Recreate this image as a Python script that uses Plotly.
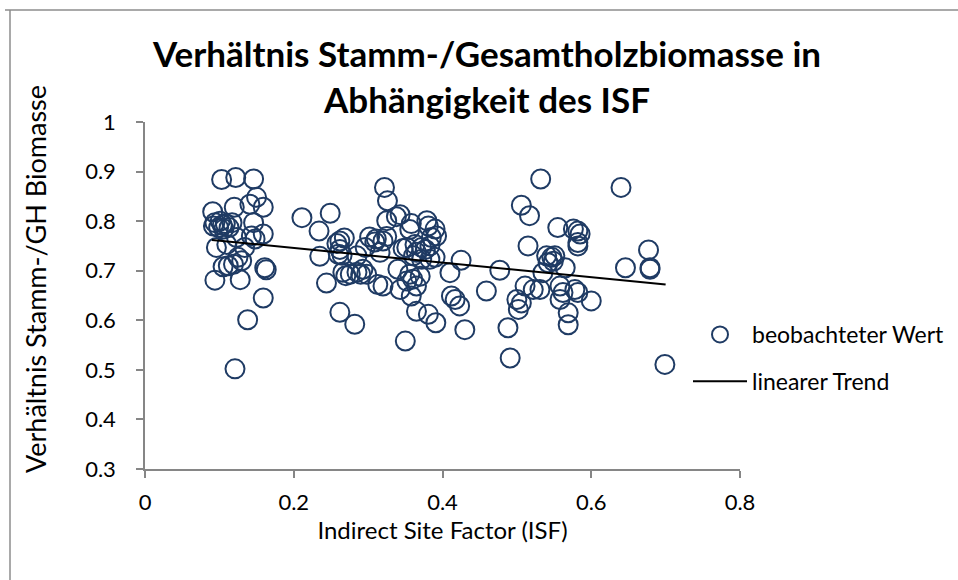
import plotly.graph_objects as go

# observed values (Indirect Site Factor, ratio stem / total wood biomass)
isf = [
    0.091, 0.103, 0.122, 0.146, 0.150, 0.141, 0.159, 0.120,
    0.094, 0.101, 0.108, 0.106, 0.113, 0.099, 0.117, 0.092, 0.104,
    0.146, 0.159, 0.143, 0.148, 0.123, 0.110, 0.096, 0.134,
    0.125, 0.119, 0.112, 0.105, 0.130, 0.161, 0.163,
    0.094, 0.128, 0.159, 0.138, 0.121,
    0.211, 0.249, 0.234, 0.235, 0.244,
    0.262, 0.268, 0.258, 0.262, 0.265, 0.260,
    0.266, 0.276, 0.285, 0.290, 0.270,
    0.262, 0.282,
    0.285, 0.296, 0.302, 0.309, 0.316, 0.311, 0.320, 0.325,
    0.322, 0.326, 0.325, 0.338, 0.343,
    0.313, 0.320, 0.340, 0.343, 0.352, 0.356, 0.358, 0.365, 0.360, 0.370, 0.293, 0.298,
    0.365, 0.381, 0.391, 0.350,
    0.358, 0.356, 0.379, 0.381, 0.390, 0.385, 0.392,
    0.347, 0.352, 0.363, 0.372, 0.377, 0.383, 0.365,
    0.361, 0.372, 0.383, 0.390,
    0.410, 0.425, 0.412, 0.417, 0.423, 0.430,
    0.459, 0.477, 0.488, 0.491, 0.500, 0.502, 0.506, 0.511, 0.522,
    0.506, 0.517, 0.532, 0.515,
    0.540, 0.547, 0.551, 0.542, 0.549, 0.535, 0.531,
    0.555, 0.576, 0.582, 0.585, 0.582, 0.582,
    0.565, 0.558, 0.562, 0.558, 0.578, 0.582, 0.600,
    0.569, 0.569,
    0.640, 0.646, 0.677, 0.679, 0.679, 0.699,
]
ratio = [
    0.819, 0.884, 0.888, 0.885, 0.848, 0.834, 0.828, 0.828,
    0.797, 0.800, 0.795, 0.784, 0.787, 0.787, 0.797, 0.790, 0.792,
    0.797, 0.774, 0.770, 0.764, 0.767, 0.753, 0.747, 0.747,
    0.727, 0.713, 0.710, 0.708, 0.720, 0.706, 0.702,
    0.681, 0.682, 0.645, 0.601, 0.502,
    0.807, 0.816, 0.780, 0.729, 0.675,
    0.760, 0.766, 0.755, 0.743, 0.731, 0.733,
    0.697, 0.693, 0.697, 0.693, 0.690,
    0.616, 0.592,
    0.730, 0.747, 0.768, 0.758, 0.737, 0.764, 0.760, 0.769,
    0.868, 0.841, 0.801, 0.809, 0.813,
    0.672, 0.669, 0.703, 0.662, 0.679, 0.693, 0.649, 0.669, 0.683, 0.689, 0.703, 0.693,
    0.618, 0.612, 0.595, 0.558,
    0.795, 0.783, 0.801, 0.790, 0.784, 0.767, 0.770,
    0.745, 0.747, 0.753, 0.747, 0.743, 0.750, 0.737,
    0.730, 0.723, 0.723, 0.727,
    0.696, 0.721, 0.649, 0.642, 0.629, 0.581,
    0.659, 0.701, 0.585, 0.524, 0.642, 0.622, 0.635, 0.669, 0.662,
    0.832, 0.811, 0.885, 0.750,
    0.730, 0.727, 0.730, 0.716, 0.719, 0.696, 0.662,
    0.787, 0.784, 0.780, 0.774, 0.757, 0.750,
    0.706, 0.669, 0.656, 0.642, 0.662, 0.656, 0.639,
    0.615, 0.591,
    0.868, 0.706, 0.742, 0.706, 0.703, 0.511,
]

# linear trend end points
trend_x = [0.09, 0.70]
trend_y = [0.762, 0.672]

x_ticks = [0, 0.2, 0.4, 0.6, 0.8]
y_ticks = [0.3, 0.4, 0.5, 0.6, 0.7, 0.8, 0.9, 1.0]
y_tick_labels = ["0.3", "0.4", "0.5", "0.6", "0.7", "0.8", "0.9", "1"]

FONT = "Lato, 'Open Sans', sans-serif"
NAVY = "#1f3b64"
AX = "#868686"

fig = go.Figure()
fig.add_trace(go.Scatter(
    x=isf, y=ratio, mode="markers", name="beobachteter Wert",
    legendgroup="a",
    marker=dict(symbol="circle-open", size=19, color=NAVY, line=dict(width=2, color=NAVY)),
))
fig.add_trace(go.Scatter(
    x=trend_x, y=trend_y, mode="lines", name="linearer Trend",
    legendgroup="b",
    line=dict(color="black", width=2),
))

L, R, T, B = 145, 218, 122, 111
W, H = 958, 580
pw, ph = W - L - R, H - T - B

fig.update_layout(
    width=W, height=H,
    margin=dict(l=L, r=R, t=T, b=B, autoexpand=False),
    paper_bgcolor="white", plot_bgcolor="white",
    font=dict(family=FONT, color="black", size=20),
    title=dict(
        text="<b>Verhältnis Stamm-/Gesamtholzbiomasse in<br>Abhängigkeit des ISF</b>",
        font=dict(family=FONT, size=35, color="black"),
        x=487 / W, xanchor="center", xref="container",
        y=1 - 67 / H, yanchor="middle", yref="container",
    ),
    xaxis=dict(
        range=[0, 0.8], tickvals=x_ticks, ticktext=[str(v) for v in x_ticks],
        showline=True, linecolor=AX, linewidth=1.5, mirror=False,
        ticks="outside", ticklen=7, tickcolor=AX, tickwidth=1.5,
        showgrid=False, zeroline=False,
        tickfont=dict(size=22), ticklabelstandoff=6,
        title=dict(text="Indirect Site Factor (ISF)", font=dict(size=24), standoff=0),
    ),
    yaxis=dict(
        range=[0.3, 1.0], tickvals=y_ticks, ticktext=y_tick_labels,
        showline=True, linecolor=AX, linewidth=1.5,
        ticks="outside", ticklen=7, tickcolor=AX, tickwidth=1.5,
        showgrid=False, zeroline=False,
        tickfont=dict(size=22), ticklabelstandoff=16,
    ),
    legend=dict(
        x=(688 - L) / pw, xanchor="left",
        y=(H - B - 313) / ph, yanchor="top",
        font=dict(size=23), tracegroupgap=14, itemwidth=54,
        bgcolor="rgba(0,0,0,0)",
    ),
    showlegend=True,
)

# y-axis title (placed like the original, slightly above the plot-area centre)
fig.add_annotation(
    text="Verhältnis Stamm-/GH Biomasse", textangle=-90,
    xref="paper", yref="paper", x=(35 - L) / pw, y=(H - B - 279) / ph,
    xanchor="center", yanchor="middle", showarrow=False,
    font=dict(family=FONT, size=27, color="black"),
)

# outer chart-area border (left and top edges visible)
fig.add_shape(type="line", xref="paper", yref="paper",
              x0=(10 - L) / pw, x1=(10 - L) / pw, y0=(H - B - 10) / ph, y1=(H - B - 600) / ph,
              line=dict(color="#8c8c8c", width=1.5))
fig.add_shape(type="line", xref="paper", yref="paper",
              x0=(5 - L) / pw, x1=(1000 - L) / pw, y0=(H - B - 10) / ph, y1=(H - B - 10) / ph,
              line=dict(color="#8c8c8c", width=1.5))

fig.write_html("out.html", config={"displayModeBar": False},
               post_script="document.body.style.margin='0';")
